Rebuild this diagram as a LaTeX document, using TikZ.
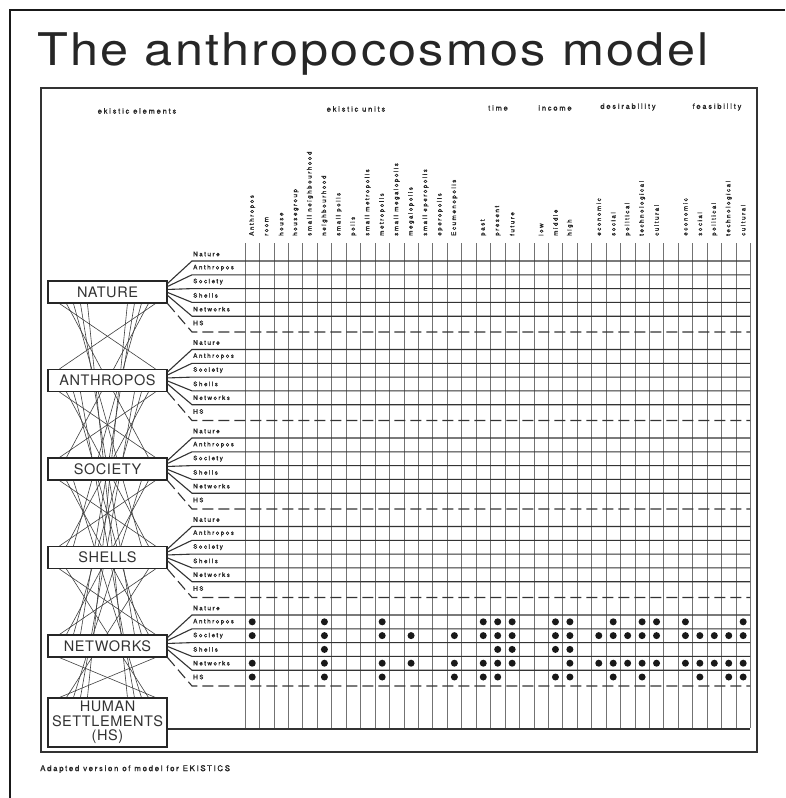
\documentclass[tikz,border=0pt]{standalone}
\usepackage{fontspec}
\setmainfont{TeX Gyre Heros}
\newfontfamily\titlefont[LetterSpace=5,FakeStretch=1.12]{TeX Gyre Heros}
\newfontfamily\lsfont[LetterSpace=24,FakeBold=1.2]{TeX Gyre Heros}
\newfontfamily\capfont[LetterSpace=20,FakeBold=1]{TeX Gyre Heros}
\newfontfamily\boxfont[LetterSpace=4]{TeX Gyre Heros}
\usetikzlibrary{calc,backgrounds}
\tikzset{
 elbox/.style={draw=black!85, line width=1.1pt, fill=white, minimum width=119pt, minimum height=22pt, inner sep=0pt, text=black!80, font=\boxfont\fontsize{14.5}{15}\selectfont},
 rowlab/.style={anchor=west, inner sep=0pt, text=black!85, font=\lsfont\fontsize{6.3}{7}\selectfont},
 collab/.style={anchor=west, rotate=90, inner sep=0pt, text=black!85, font=\lsfont\fontsize{6.3}{7}\selectfont},
 hdr/.style={inner sep=0pt, text=black!85, font=\lsfont\fontsize{7.5}{8}\selectfont},
 gridv/.style={line width=0.6pt, black!55},
 gridh/.style={line width=1.1pt, black!80},
 gridd/.style={gridh, dash pattern=on 11pt off 5pt},
 netline/.style={line width=0.6pt, black!75},
 edot/.style={circle, fill=black!90, inner sep=0pt, minimum size=7pt},
}
\begin{document}
\begin{tikzpicture}[x=1pt,y=-1pt]
\useasboundingbox (0,0) rectangle (785,798);
% scan border
\coordinate (sA) at (785,10); \coordinate (sB) at (10,10); \coordinate (sC) at (10,798);
\draw[line width=2.2pt, black!90] (sA) -- (sB) -- (sC);
% title
\node[anchor=base west, inner sep=0pt, text=black!85, font=\titlefont\fontsize{45}{45}\selectfont] (title) at (37,65) {The anthropocosmos model};
% frame
\coordinate (fA) at (41,88); \coordinate (fB) at (757,752);
\draw[line width=1.2pt, black!80] (fA) rectangle (fB);
% headers
\node[hdr] (hElem) at (137,111) {ekistic elements};
\node[hdr] (hUnits) at (356,109) {ekistic units};
\node[hdr] (hTime) at (498,108) {time};
\node[hdr] (hInc) at (555,108) {income};
\node[hdr] (hDes) at (628,107) {desirability};
\node[hdr] (hFea) at (717,107) {feasibility};
% vertical grid lines
\foreach \i in {0,...,35} {
  \coordinate (vt\i) at ({245+14.44*\i},243);
  \coordinate (vb\i) at ({245+14.44*\i},728);
  \draw[gridv] (vt\i) -- (vb\i);
}
% column labels
\foreach \c/\t in {1/Anthropos,2/room,3/house,4/housegroup,5/small neighbourhood,6/neighbourhood,7/small polis,8/polis,9/small metropolis,10/metropolis,11/small megalopolis,12/megalopolis,13/small eperopolis,14/eperopolis,15/Ecumenopolis,17/past,18/present,19/future,21/low,22/middle,23/high,25/economic,26/social,27/political,28/technological,29/cultural,31/economic,32/social,33/political,34/technological,35/cultural}
  \node[collab] (c\c) at ({245+14.44*(\c-0.5)},236) {\t};
% element boxes and their rows
\foreach \g/\nm in {0/NATURE,1/ANTHROPOS,2/SOCIETY,3/SHELLS,4/NETWORKS} {
  \pgfmathsetmacro\yg{254+88.5*\g}
  \node[elbox] (b\g) at (107.5,{\yg+38}) {\nm};
  \foreach \k/\lab in {0/Nature,1/Anthropos,2/Society,3/Shells,4/Networks} {
    \coordinate (l\g\k) at (192,{\yg+7+13.8*\k});
    \coordinate (r\g\k) at (750,{\yg+7+13.8*\k});
    \draw[gridh] ($(b\g.north east)+(0,{3+3*\k})$) -- (l\g\k) -- (r\g\k);
    \node[rowlab] (rl\g\k) at (193,{\yg+13.8*\k}) {\lab};
  }
  \node[rowlab] (rl\g5) at (193,{\yg+69}) {HS};
  \coordinate (l\g5) at (192,{\yg+78});
  \coordinate (r\g5) at (750,{\yg+78});
  \draw[gridd] (b\g.south east) -- (l\g5) -- (r\g5);
}
\node[elbox, minimum height=49pt, align=center, font=\boxfont\fontsize{14.5}{14.5}\selectfont] (b5) at (107.5,722.5) {HUMAN\\SETTLEMENTS\\(HS)};
\coordinate (bb1) at (750,729);
\draw[gridh] (b5.east |- bb1) -- (bb1);
% interconnections between the elements
\begin{pgfonlayer}{background}
 \fill[white] (0,0) rectangle (785,798);
 \foreach \i in {0,...,4} {
   \pgfmathtruncatemacro\ja{\i+1}
   \foreach \j in {\ja,...,5} {
     \pgfmathsetmacro\oL{12+7*(\j-\i-1)}
     \pgfmathsetmacro\oR{108-7*(\j-\i-1)}
     \draw[netline] ($(b\i.south west)+(\oL,0)$) -- ($(b\j.north west)+(\oR,0)$);
     \draw[netline] ($(b\i.south west)+(\oR,0)$) -- ($(b\j.north west)+(\oL,0)$);
   }
 }
\end{pgfonlayer}
% dots in the NETWORKS rows
\foreach \j/\cols in {1/{1,6,10,17,18,19,22,23,26,28,29,31,35},2/{1,6,10,12,15,17,18,19,22,23,25,26,27,28,29,31,32,33,34,35},3/{6,18,19,22,23},4/{1,6,10,12,15,17,18,19,23,25,26,27,28,29,31,32,33,34,35},5/{1,6,10,15,17,18,22,23,26,28,32,34,35}} {
  \foreach \c in \cols {
    \node[edot] (d\j-\c) at ({245+14.44*(\c-0.5)},{608+13.8*\j}) {};
  }
}
% caption
\node[anchor=west, inner sep=0pt, text=black!85, font=\capfont\fontsize{8}{9}\selectfont] (cap) at (40,769) {Adapted version of model for EKISTICS};
\end{tikzpicture}
\end{document}
